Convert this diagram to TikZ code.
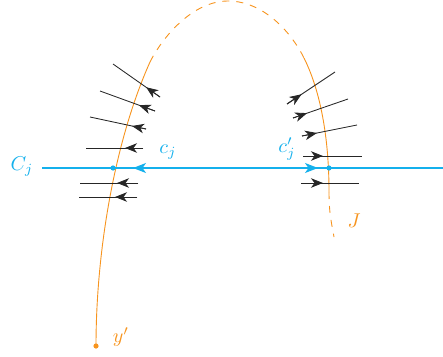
\documentclass[tikz,border=0pt]{standalone}
\usetikzlibrary{arrows.meta,calc}
\definecolor{curveorange}{RGB}{247,148,30}
\definecolor{lineblue}{RGB}{20,176,236}
\tikzset{
  curve/.style={draw=curveorange, line width=0.9pt},
  dashcurve/.style={curve, dash pattern=on 7pt off 7pt},
  field/.style={draw=black!85, line width=0.85pt},
  fieldtip/.style={field, -{Stealth[length=12pt,width=9.5pt,inset=3.5pt]}},
  bluetip/.style={draw=lineblue, line width=1.2pt, -{Stealth[length=13pt,width=10pt,inset=3.5pt]}},
  lab/.style={inner sep=0pt},
}
\newcommand{\fieldarrow}[3]{%
  \draw[field] (#1) -- (#2);
  \draw[fieldtip] (#1) -- ($(#1)!(#3)!(#2)$);
}
\newcommand{\biglab}[1]{\scalebox{2}{$#1$}}
\begin{document}
\begin{tikzpicture}[x=1pt,y=-1pt]
\useasboundingbox (0,0) rectangle (443,356);
% curve J
\coordinate (y0) at (96,346);
\coordinate (l1) at (150,62);
\coordinate (top) at (228,1);
\coordinate (r1) at (304,58);
\coordinate (r2) at (329,192);
\coordinate (r3) at (334,237);
\draw[curve] (y0) .. controls (96,250) and (115,140) .. (l1);
\draw[dashcurve] (l1) .. controls (162,38) and (192,1) .. (top)
   .. controls (262,1) and (290,30) .. (r1);
\draw[curve] (r1) .. controls (318,86) and (329,130) .. (r2);
\draw[dashcurve] (r2) .. controls (329,215) and (332,225) .. (r3);
\fill[curveorange] (y0) circle (2.6pt);
% blue line
\coordinate (bl) at (42,168);
\coordinate (br) at (443,168);
\coordinate (cj) at (113,168);
\coordinate (cjp) at (329,168);
\draw[draw=lineblue, line width=1.2pt] (bl) -- (br);
\draw[bluetip] (br) -- (133,168);
\draw[bluetip] (bl) -- (318,168);
\fill[lineblue] (cj) circle (2.6pt);
\fill[lineblue] (cjp) circle (2.6pt);
% left field arrows
\coordinate (a1s) at (160,97);  \coordinate (a1e) at (113,64);  \coordinate (a1t) at (147,86);
\coordinate (a2s) at (155,111); \coordinate (a2e) at (100,91);  \coordinate (a2t) at (139,105);
\coordinate (a3s) at (146,129); \coordinate (a3e) at (90,117);  \coordinate (a3t) at (132,126);
\coordinate (a4s) at (143,148); \coordinate (a4e) at (86,148);  \coordinate (a4t) at (125,148);
\coordinate (a5s) at (138,183); \coordinate (a5e) at (80,183);  \coordinate (a5t) at (117,183);
\coordinate (a6s) at (137,197); \coordinate (a6e) at (79,197);  \coordinate (a6t) at (115,197);
\fieldarrow{a1s}{a1e}{a1t}
\fieldarrow{a2s}{a2e}{a2t}
\fieldarrow{a3s}{a3e}{a3t}
\fieldarrow{a4s}{a4e}{a4t}
\fieldarrow{a5s}{a5e}{a5t}
\fieldarrow{a6s}{a6e}{a6t}
% right field arrows
\coordinate (b1s) at (287,104); \coordinate (b1e) at (335,72);  \coordinate (b1t) at (302,95);
\coordinate (b2s) at (293,118); \coordinate (b2e) at (348,99);  \coordinate (b2t) at (307,113);
\coordinate (b3s) at (302,136); \coordinate (b3e) at (357,125); \coordinate (b3t) at (317,133);
\coordinate (b4s) at (303,156); \coordinate (b4e) at (362,156); \coordinate (b4t) at (323,156);
\coordinate (b5s) at (301,183); \coordinate (b5e) at (359,183); \coordinate (b5t) at (323,183);
\fieldarrow{b1s}{b1e}{b1t}
\fieldarrow{b2s}{b2e}{b2t}
\fieldarrow{b3s}{b3e}{b3t}
\fieldarrow{b4s}{b4e}{b4t}
\fieldarrow{b5s}{b5e}{b5t}
% labels
\node[lab, text=lineblue] (Cj) at (22,167) {\biglab{C_j}};
\node[lab, text=lineblue] (cjl) at (168,152) {\biglab{c_j}};
\node[lab, text=lineblue] (cjpl) at (287,149) {\biglab{c'_j}};
\node[lab, text=curveorange] (Jl) at (354,221) {\biglab{J}};
\node[lab, text=curveorange] (yl) at (121,337) {\biglab{y'}};
\end{tikzpicture}
\end{document}
